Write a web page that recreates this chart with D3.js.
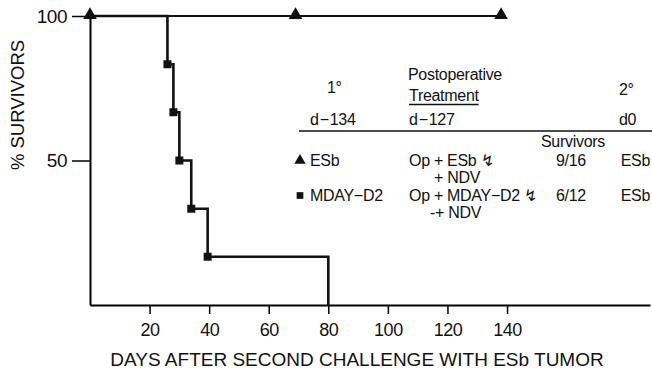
<!DOCTYPE html>
<html>
<head>
<meta charset="utf-8">
<script src="https://cdn.jsdelivr.net/npm/d3@7/dist/d3.min.js"></script>
<style>
  body { margin: 0; background: #fff; }
  text { font-family: "Liberation Sans", Arial, sans-serif; fill: #111; }
</style>
</head>
<body>
<svg id="chart" width="652" height="370"></svg>
<script>
// ESb primary tumour group (triangles)
var esbDays = [0, 69, 138];
var esbSurv = [100, 100, 100];

// MDAY-D2 primary tumour group (squares), step curve
var mdayDays = [0, 26, 28, 30, 34, 39.5, 80];
var mdaySurv = [100, 83.3, 66.7, 50, 33.3, 16.7, 0];
var mdayMarked = [1, 2, 3, 4, 5];

var xTicks = [20, 40, 60, 80, 100, 120, 140];
var yTicks = [50, 100];

// legend table
var headTop = ["1°", "Postoperative", "2°"];
var headMid = ["Treatment"];
var headDays = ["d\u200a\u2212\u200a134", "d\u200a\u2212\u200a127", "d0"];
var groupNames = ["ESb", "MDAY\u2212D2"];
var treatments = ["Op + ESb \u21af", "Op + MDAY\u2212D2 \u21af"];
var survivors = ["9/16", "6/12"];
var secondary = ["ESb", "ESb"];

var svg = d3.select("#chart");

var x = d3.scaleLinear().domain([0, 188]).range([90, 650]);
var y = d3.scaleLinear().domain([0, 100]).range([305, 16]);

// axes
var xAxis = d3.axisBottom(x)
  .tickValues(xTicks)
  .tickSize(9)
  .tickSizeOuter(0)
  .tickPadding(9);

var yAxis = d3.axisLeft(y)
  .tickValues(yTicks)
  .tickSize(18)
  .tickSizeOuter(0)
  .tickPadding(5);

var gx = svg.append("g")
  .attr("transform", "translate(0," + y(0) + ")")
  .call(xAxis);
gx.select(".domain").attr("stroke-width", 2.2);
gx.selectAll(".tick line").attr("stroke-width", 1.5);
gx.selectAll(".tick text")
  .attr("font-size", 18)
  .attr("fill", "#111")
  .style("letter-spacing", "-0.5px");

var gy = svg.append("g")
  .attr("transform", "translate(" + x(0) + ",0)")
  .call(yAxis);
gy.select(".domain").attr("stroke-width", 2);
gy.selectAll(".tick line").attr("stroke-width", 1.5);
gy.selectAll(".tick text")
  .attr("font-size", 19)
  .attr("fill", "#111")
  .style("letter-spacing", "-0.5px");

// axis titles
svg.append("text")
  .attr("x", 357)
  .attr("y", 366)
  .attr("text-anchor", "middle")
  .attr("font-size", 19)
  .text("DAYS AFTER SECOND CHALLENGE WITH ESb TUMOR");

svg.append("text")
  .attr("transform", "translate(24,105) rotate(-90)")
  .attr("text-anchor", "middle")
  .attr("font-size", 18.5)
  .text("% SURVIVORS");

// curves
var esbLine = d3.line()
  .x(function(d, i) { return x(esbDays[i]); })
  .y(function(d) { return y(d); });

svg.append("path")
  .attr("d", esbLine(esbSurv))
  .attr("fill", "none")
  .attr("stroke", "#111")
  .attr("stroke-width", 2.2);

var mdayLine = d3.line()
  .curve(d3.curveStepAfter)
  .x(function(d, i) { return x(mdayDays[i]); })
  .y(function(d) { return y(d); });

svg.append("path")
  .attr("d", mdayLine(mdaySurv))
  .attr("fill", "none")
  .attr("stroke", "#111")
  .attr("stroke-width", 2.6);

// markers
var tri = d3.symbol().type(d3.symbolTriangle).size(80);
var sq = d3.symbol().type(d3.symbolSquare).size(64);

svg.selectAll(".tri")
  .data(esbSurv)
  .join("path")
    .attr("class", "tri")
    .attr("d", tri)
    .attr("transform", function(d, i) { return "translate(" + x(esbDays[i]) + "," + (y(d) - 1) + ")"; })
    .attr("fill", "#111");

svg.selectAll(".sq")
  .data(mdayMarked)
  .join("path")
    .attr("class", "sq")
    .attr("d", sq)
    .attr("transform", function(i) { return "translate(" + x(mdayDays[i]) + "," + y(mdaySurv[i]) + ")"; })
    .attr("fill", "#111");

// legend table
var leg = svg.append("g").attr("font-size", 16).style("letter-spacing", "-0.3px");

leg.append("text").attr("x", 327).attr("y", 93).text(headTop[0]);
leg.append("text").attr("x", 408).attr("y", 80).text(headTop[1]);
leg.append("text").attr("x", 619).attr("y", 95).text(headTop[2]);
var tr = leg.append("text").attr("x", 409).attr("y", 101).text(headMid[0]);
var trW = tr.node().getComputedTextLength();
leg.append("line")
  .attr("x1", 409).attr("x2", 409 + trW)
  .attr("y1", 104.5).attr("y2", 104.5)
  .attr("stroke", "#111").attr("stroke-width", 1.3);

leg.append("text").attr("x", 310).attr("y", 125).text(headDays[0]);
leg.append("text").attr("x", 409).attr("y", 125).text(headDays[1]);
leg.append("text").attr("x", 619).attr("y", 125).text(headDays[2]);

leg.append("line")
  .attr("x1", 299).attr("x2", 652)
  .attr("y1", 131).attr("y2", 131)
  .attr("stroke", "#111").attr("stroke-width", 1.6);

leg.append("text").attr("x", 541).attr("y", 147).text("Survivors");

var rowY = [166, 201];
var ndvX = [434, 430];
var ndvTxt = ["+ NDV", "-+ NDV"];

rowY.forEach(function(ry, i) {
  leg.append("path")
    .attr("d", i === 0 ? d3.symbol().type(d3.symbolTriangle).size(55)() : d3.symbol().type(d3.symbolSquare).size(45)())
    .attr("transform", "translate(300," + (ry - 5.5) + ")")
    .attr("fill", "#111");
  leg.append("text").attr("x", 310).attr("y", ry).text(groupNames[i]);
  leg.append("text").attr("x", 409).attr("y", ry).text(treatments[i]);
  leg.append("text").attr("x", 556).attr("y", ry).text(survivors[i]);
  leg.append("text").attr("x", 650).attr("y", ry).attr("text-anchor", "end").text(secondary[i]);
  leg.append("text").attr("x", ndvX[i]).attr("y", ry + 17).text(ndvTxt[i]);
});
</script>
</body>
</html>
